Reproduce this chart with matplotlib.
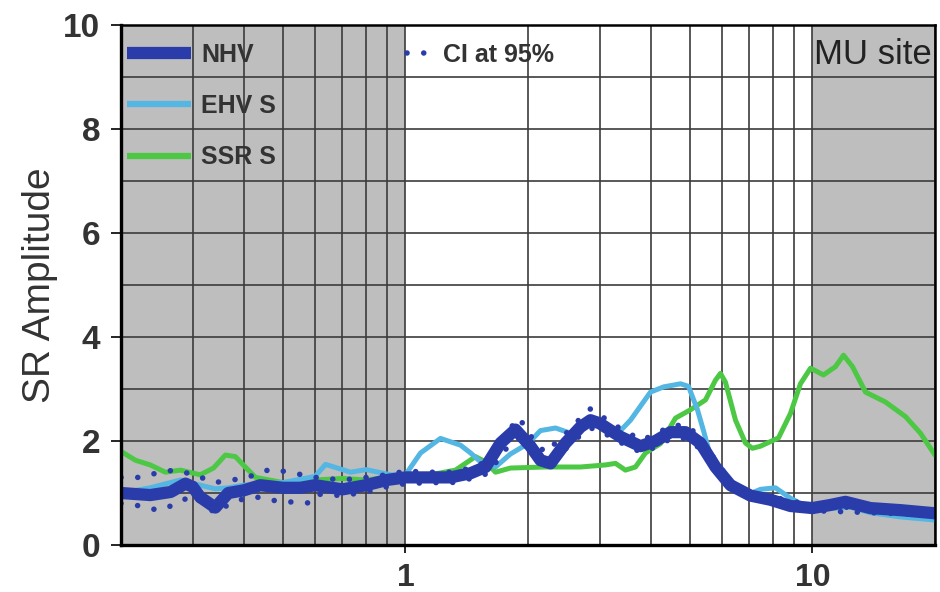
import matplotlib
matplotlib.use("Agg")
import matplotlib.pyplot as plt
from matplotlib.lines import Line2D
from matplotlib.ticker import LogLocator, FixedLocator, NullFormatter, FixedFormatter

plt.rcParams['font.family'] = ['Liberation Sans', 'DejaVu Sans']

# ---------------- data ----------------
nhv_freq = [0.2, 0.236, 0.265, 0.288, 0.3, 0.313, 0.341, 0.367, 0.4, 0.44, 0.5, 0.552,
            0.6, 0.7, 0.8, 0.9, 1.0, 1.152, 1.29, 1.445, 1.573, 1.712, 1.863, 2.028,
            2.146, 2.272, 2.473, 2.692, 2.848, 3.0, 3.376, 3.779, 4.114, 4.479, 4.875,
            5.306, 5.777, 6.289, 7.04, 7.885, 8.83, 10.0, 11.07, 12.05, 13.88, 16.46, 20.0]
nhv_amp = [1.0, 0.96, 1.02, 1.18, 1.12, 0.92, 0.72, 1.0, 1.05, 1.15, 1.1, 1.1,
           1.15, 1.07, 1.15, 1.25, 1.3, 1.3, 1.3, 1.38, 1.5, 1.96, 2.22, 1.9,
           1.63, 1.57, 1.96, 2.27, 2.4, 2.34, 2.08, 1.9, 2.0, 2.17, 2.17,
           1.96, 1.5, 1.15, 0.95, 0.87, 0.75, 0.71, 0.77, 0.83, 0.71, 0.67, 0.61]

ci_freq = [0.2, 0.224, 0.246, 0.27, 0.3, 0.34, 0.372, 0.404, 0.44, 0.47, 0.516, 0.575,
           0.6, 0.7, 0.8, 0.9, 1.0, 1.15, 1.3, 1.45, 1.6, 1.75, 1.9, 2.05, 2.2, 2.45,
           2.7, 2.85, 3.0, 3.4, 3.8, 4.1, 4.5, 4.9, 5.3, 5.8, 6.3, 7.0, 8.0, 10.0, 20.0]
ci_upper = [1.3, 1.3, 1.39, 1.44, 1.36, 1.2, 1.25, 1.28, 1.4, 1.46, 1.4, 1.33,
            1.3, 1.25, 1.3, 1.35, 1.42, 1.4, 1.4, 1.48, 1.62, 2.1, 2.45, 2.05, 1.78, 2.1,
            2.45, 2.62, 2.5, 2.22, 2.02, 2.12, 2.3, 2.3, 2.08, 1.6, 1.22, 1.0, 0.92, 0.76, 0.64]
ci_lower = [0.8, 0.75, 0.67, 0.77, 0.96, 0.62, 0.8, 0.9, 0.92, 0.86, 0.83, 0.81,
            0.98, 0.95, 1.02, 1.12, 1.18, 1.2, 1.2, 1.28, 1.38, 1.82, 2.05, 1.75, 1.5, 1.82,
            2.12, 2.25, 2.2, 1.96, 1.78, 1.88, 2.05, 2.05, 1.85, 1.4, 1.08, 0.9, 0.82, 0.66, 0.58]

ehv_freq = [0.2, 0.236, 0.28, 0.313, 0.341, 0.367, 0.4, 0.5, 0.6, 0.636, 0.7, 0.733,
            0.8, 0.919, 1.0, 1.089, 1.219, 1.365, 1.445, 1.529, 1.664, 1.811, 2.0,
            2.146, 2.337, 2.543, 2.848, 3.1, 3.376, 3.571, 3.999, 4.305, 4.739, 4.959,
            5.217, 5.397, 5.616, 6.112, 6.845, 7.45, 8.11, 8.83, 9.34, 10.0, 11.07,
            12.4, 13.88, 16.46, 20.0]
ehv_amp = [1.0, 1.1, 1.25, 1.15, 1.08, 1.1, 1.15, 1.2, 1.32, 1.55, 1.45, 1.4,
           1.45, 1.35, 1.35, 1.77, 2.05, 1.92, 1.77, 1.6, 1.5, 1.75, 1.95,
           2.2, 2.25, 2.15, 2.35, 2.25, 2.2, 2.4, 2.94, 3.04, 3.1, 3.05,
           2.6, 2.2, 1.7, 1.25, 0.95, 1.07, 1.1, 0.9, 0.8, 0.72, 0.7,
           0.73, 0.62, 0.54, 0.48]

ssr_freq = [0.2, 0.217, 0.236, 0.257, 0.28, 0.313, 0.3375, 0.361, 0.382, 0.404, 0.428,
            0.5, 0.6, 0.7, 0.8, 0.9, 1.0, 1.152, 1.327, 1.486, 1.573, 1.664, 1.811,
            2.208, 2.403, 2.692, 3.1, 3.281, 3.471, 3.673, 3.888, 4.232, 4.607, 5.014,
            5.459, 5.777, 5.942, 6.112, 6.47, 6.845, 7.12, 7.45, 8.25, 8.83, 9.34,
            9.89, 10.64, 11.39, 11.92, 12.54, 13.5, 15.11, 16.92, 18.42, 20.0]
ssr_amp = [1.8, 1.63, 1.54, 1.4, 1.44, 1.35, 1.48, 1.73, 1.7, 1.5, 1.3,
           1.2, 1.25, 1.28, 1.25, 1.3, 1.35, 1.35, 1.44, 1.7, 1.6, 1.4, 1.48,
           1.5, 1.5, 1.5, 1.54, 1.57, 1.44, 1.5, 1.77, 1.95, 2.44, 2.6,
           2.79, 3.17, 3.3, 3.13, 2.4, 1.96, 1.86, 1.9, 2.06, 2.53, 3.1,
           3.4, 3.27, 3.43, 3.65, 3.43, 2.94, 2.75, 2.47, 2.15, 1.73]

x_range = (0.2, 20)
y_range = (0, 10)
shaded_low = (0.2, 1.0)
shaded_high = (10.0, 20.0)
y_ticks = [0, 2, 4, 6, 8, 10]
y_minor = [1, 3, 5, 7, 9]
x_ticks = [1, 10]
x_tick_labels = ['1', '10']
series_labels = ['NHV', 'EHV S', 'SSR S']
ci_label = 'CI at 95%'
site_label = 'MU site'

c_nhv = '#2a3caa'
c_ehv = '#54b6e2'
c_ssr = '#4cc844'
c_text = '#333333'

# ---------------- figure ----------------
fig = plt.figure(figsize=(9.4, 5.92), dpi=100)
ax = fig.add_axes([121/940, 47/592, 814/940, 520/592])

ax.set_xscale('log')
ax.set_xlim(*x_range)
ax.set_ylim(*y_range)

ax.axvspan(*shaded_low, color='#bebebe', zorder=0, lw=0)
ax.axvspan(*shaded_high, color='#bebebe', zorder=0, lw=0)

ax.xaxis.set_major_locator(FixedLocator(x_ticks))
ax.xaxis.set_major_formatter(FixedFormatter(x_tick_labels))
ax.xaxis.set_minor_locator(LogLocator(base=10, subs=range(2, 10), numticks=20))
ax.xaxis.set_minor_formatter(NullFormatter())
ax.yaxis.set_major_locator(FixedLocator(y_ticks))
ax.yaxis.set_minor_locator(FixedLocator(y_minor))

ax.set_axisbelow(True)
ax.grid(True, which='both', color='#3c3c3c', lw=1.2, zorder=0.5)

line_kw = dict(solid_capstyle='round', solid_joinstyle='round')
ax.plot(ssr_freq, ssr_amp, color=c_ssr, lw=3.6, zorder=3, **line_kw)
ax.plot(ehv_freq, ehv_amp, color=c_ehv, lw=3.6, zorder=3, **line_kw)
ax.plot(nhv_freq, nhv_amp, color=c_nhv, lw=8.8, zorder=4, **line_kw)
dot_style = (0, (0.01, 3.0))
ax.plot(ci_freq, ci_upper, color=c_nhv, lw=4.0, ls=dot_style,
        dash_capstyle='round', zorder=5)
ax.plot(ci_freq, ci_lower, color=c_nhv, lw=4.0, ls=dot_style,
        dash_capstyle='round', zorder=5)

for side in ['left', 'bottom']:
    ax.spines[side].set_linewidth(2.4)
for side in ['top', 'right']:
    ax.spines[side].set_linewidth(1.8)
for s in ax.spines.values():
    s.set_color('black')
    s.set_zorder(6)

ax.tick_params(axis='y', which='major', length=7, width=1.2, direction='out',
               labelsize=24, pad=8, colors='black', labelcolor=c_text)
ax.tick_params(axis='y', which='minor', length=0)
ax.tick_params(axis='x', which='major', length=6, width=1.2, direction='out',
               labelsize=23, pad=7, labelcolor=c_text)
ax.tick_params(axis='x', which='minor', length=0)
for lab in ax.get_xticklabels() + ax.get_yticklabels():
    lab.set_fontweight('bold')

ax.set_ylabel('SR Amplitude', fontsize=28, color=c_text)
ax.yaxis.set_label_coords(-0.077, 0.5)

handles = [Line2D([], [], color=c_nhv, lw=8.8, solid_capstyle='butt'),
           Line2D([], [], color=c_ehv, lw=4.5, solid_capstyle='butt'),
           Line2D([], [], color=c_ssr, lw=4.5, solid_capstyle='butt')]
leg1 = ax.legend(handles, series_labels, loc='upper left',
                 bbox_to_anchor=(-0.0145, 1.0), frameon=False, fontsize=18,
                 handlelength=2.56, handletextpad=0.42, labelspacing=1.1,
                 borderaxespad=0.5, borderpad=0.2)
for t in leg1.get_texts():
    t.set_color(c_text)
    t.set_fontweight('bold')
ax.add_artist(leg1)

ci_handle = Line2D([], [], color=c_nhv, lw=4.0, ls=dot_style, dash_capstyle='round')
leg2 = ax.legend([ci_handle], [ci_label], loc='upper left',
                 bbox_to_anchor=(0.330, 1.0), frameon=False, fontsize=18,
                 handlelength=1.0, handletextpad=0.45, borderaxespad=0.5, borderpad=0.2)
for t in leg2.get_texts():
    t.set_color(c_text)
    t.set_fontweight('bold')

ax.text(0.851, 0.975, site_label, transform=ax.transAxes, fontsize=25,
        color='#222222', ha='left', va='top', zorder=7)

fig.savefig('out.png', dpi=100)
